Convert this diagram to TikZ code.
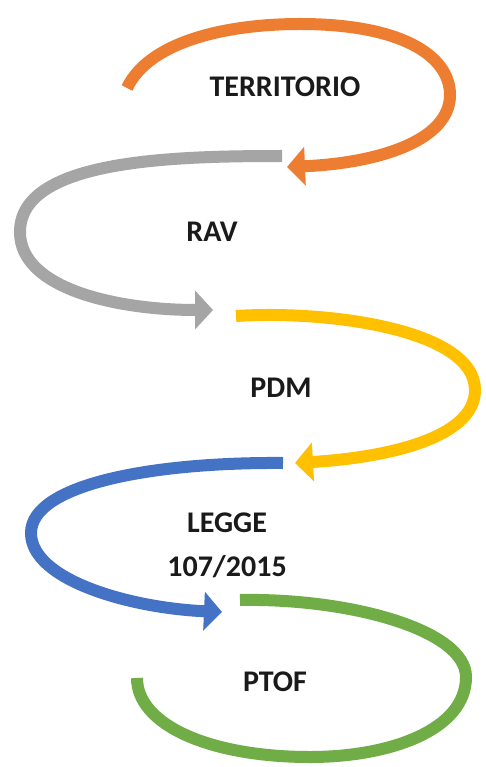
\documentclass[tikz,border=0pt]{standalone}
\usepackage{fontspec}
\setmainfont{Carlito}
\usetikzlibrary{arrows.meta}
\definecolor{corange}{HTML}{ED7D31}
\definecolor{cgrey}{HTML}{A5A5A5}
\definecolor{cyellow}{HTML}{FFC000}
\definecolor{cblue}{HTML}{4472C4}
\definecolor{cgreen}{HTML}{70AD47}
\definecolor{ctext}{HTML}{1A1A1A}
\tikzset{
  band/.style={line width=12pt, line cap=butt},
  bandarrow/.style={band, -{Triangle[length=18pt,width=38pt]}},
  lbl/.style={font=\fontsize{30}{44}\selectfont\bfseries, text=ctext, inner sep=0pt, align=center}
}
\begin{document}
\begin{tikzpicture}[x=1pt,y=-1pt]
\useasboundingbox[fill=white] (0,0) rectangle (486,767);
% orange
\draw[bandarrow, corange] (127,88) .. controls (150,40) and (230,24) .. (300,24)
  .. controls (400,24) and (450,55) .. (450,95)
  .. controls (450,140) and (380,163) .. (287,167);
% grey
\draw[bandarrow, cgrey] (282,156) .. controls (170,156) and (20,160) .. (20,232)
  .. controls (20,290) and (120,310) .. (213,310);
% yellow
\draw[bandarrow, cyellow] (236,316) .. controls (330,310) and (475,330) .. (475,390)
  .. controls (475,440) and (380,458) .. (295,463);
% blue
\draw[bandarrow, cblue] (283,463) .. controls (150,462) and (31,485) .. (31,533)
  .. controls (31,580) and (130,608) .. (222,612);
% green
\draw[band, cgreen] (240,600) .. controls (350,598) and (466,630) .. (466,677)
  .. controls (466,730) and (390,757) .. (310,757)
  .. controls (210,757) and (137,725) .. (137,678);
% labels
\node[lbl] (territorio) at (285,87) {TERRITORIO};
\node[lbl] (rav) at (212,232) {RAV};
\node[lbl] (pdm) at (281,388) {PDM};
\node[lbl] (legge) at (227,545) {LEGGE\\107/2015};
\node[lbl] (ptof) at (275,682) {PTOF};
\end{tikzpicture}
\end{document}
